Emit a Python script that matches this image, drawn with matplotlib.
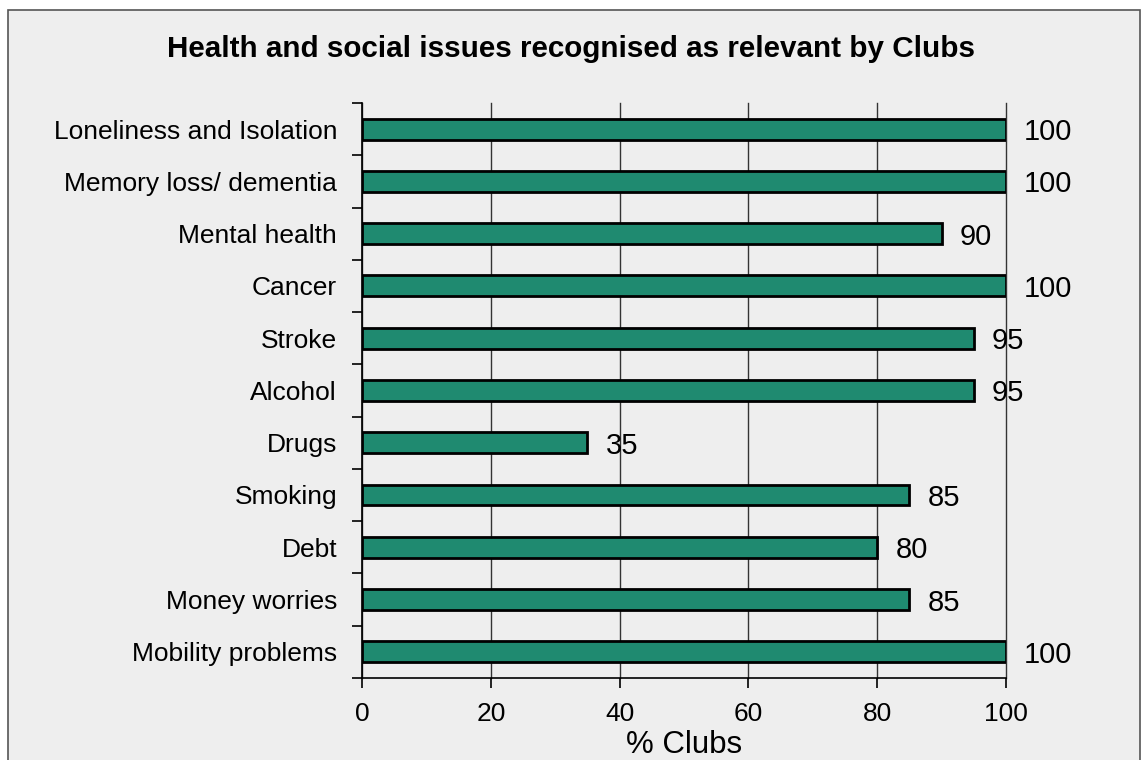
import matplotlib.pyplot as plt
from matplotlib.patches import Rectangle

plt.rcParams['font.family'] = ['Liberation Sans', 'DejaVu Sans']

# categories top to bottom, % of clubs
issues = ["Loneliness and Isolation", "Memory loss/ dementia", "Mental health",
          "Cancer", "Stroke", "Alcohol", "Drugs", "Smoking", "Debt",
          "Money worries", "Mobility problems"]
pct_clubs = [100, 100, 90, 100, 95, 95, 35, 85, 80, 85, 100]
x_ticks = [0, 20, 40, 60, 80, 100]

bg = "#eeeeee"
fig = plt.figure(figsize=(11.42, 7.6), dpi=100, facecolor="white")
# grey panel with outline behind the chart
fig.patches.append(Rectangle((8 / 1142, -0.01), 1132 / 1142, 1 - 10 / 760 + 0.01,
                             transform=fig.transFigure, facecolor=bg,
                             edgecolor="#555555", linewidth=1.2, zorder=-10))

ax = fig.add_axes([0.317, 0.108, 0.564, 0.7565])
ax.set_facecolor(bg)

n = len(issues)
ypos = list(range(n))
ax.barh(ypos, pct_clubs, height=0.4, color="#1f8a70", edgecolor="black",
        linewidth=2, zorder=3)
for y, v in zip(ypos, pct_clubs):
    ax.annotate(str(v), (v, y), xytext=(13, 0), textcoords="offset points",
                ha="left", va="center_baseline", fontsize=21, zorder=4)

ax.set_ylim(n - 0.5, -0.5)
ax.set_xlim(0, 100)
ax.set_xticks(x_ticks)
ax.set_xticklabels([str(t) for t in x_ticks], fontsize=19)
ax.set_yticks([i - 0.5 for i in range(n + 1)])
ax.set_yticklabels([])
ax.set_yticks(ypos, minor=True)
ax.set_yticklabels(issues, minor=True, fontsize=19)
ax.tick_params(axis="y", which="minor", length=0, pad=18)
ax.tick_params(axis="y", which="major", length=7, width=1.2, color="black")
ax.tick_params(axis="x", length=7, width=1.2, pad=10)

ax.grid(axis="x", color="#333333", linewidth=1, zorder=1)
for gl in ax.get_xgridlines():
    gl.set_clip_on(False)
ax.set_axisbelow(True)
for s in ["top", "right"]:
    ax.spines[s].set_visible(False)
for s in ["left", "bottom"]:
    ax.spines[s].set_linewidth(1.2)

ax.set_xlabel("% Clubs", fontsize=22.5, labelpad=3)
fig.text(0.5, 0.935, "Health and social issues recognised as relevant by Clubs",
         ha="center", va="center", fontsize=21.3, fontweight="bold")

fig.savefig("out.png", dpi=100, facecolor=fig.get_facecolor())
